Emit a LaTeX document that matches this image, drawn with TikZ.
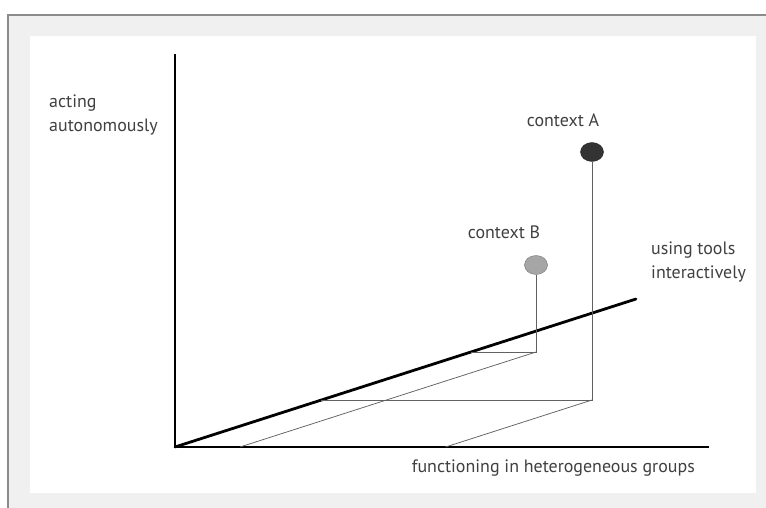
\documentclass[tikz,border=0pt]{standalone}
\usepackage{fontspec}
\setmainfont{PT Sans}
\usetikzlibrary{calc, shapes.geometric}

\begin{document}
\begin{tikzpicture}[x=1bp, y=-1bp,
    axis/.style={line width=2.8pt, black, line cap=rect},
    guide/.style={line width=0.75pt, black!62},
    label/.style={text=black!75, font=\fontsize{18}{25}\selectfont, inner sep=0pt},
    point/.style={ellipse, minimum width=23bp, minimum height=19bp, inner sep=0pt}]
  \useasboundingbox (0,0) rectangle (766,508);
  % frame
  \draw[black!45, line width=1.5pt, fill=black!6] (8,15) rectangle (774,516);
  \fill[white] (30,36) rectangle (756,493);

  % axes
  \coordinate (O) at (175,447);
  \coordinate (ytop) at (175,55);
  \coordinate (xend) at (708,447);
  \coordinate (zend) at (636,299);
  \draw[axis] (ytop) -- (O) -- (xend);
  \draw[axis, line cap=round] (O) -- (zend);

  % the two contexts
  \node[point, fill=black!80, draw=black!85] (ctxA) at (592,152) {};
  \node[point, fill=black!35, draw=black!55] (ctxB) at (536,265) {};

  \coordinate (footA) at (592,400);
  \coordinate (footB) at (536,352);
  \coordinate (zA) at (321.4,400);
  \coordinate (zB) at (471,352);
  \coordinate (baseA) at ($(footA)-(zA)+(O)$);
  \coordinate (baseB) at ($(footB)-(zB)+(O)$);

  \draw[guide] (ctxA) -- (footA) -- (zA);
  \draw[guide] (footA) -- (baseA);
  \draw[guide] (ctxB) -- (footB) -- (zB);
  \draw[guide] (footB) -- (baseB);

  % labels
  \node[label, anchor=base west, align=left] (ylab) at (49,132) {acting\\autonomously};
  \node[label, anchor=base] (labA) at (563,127) {context A};
  \node[label, anchor=base] (labB) at (504,239) {context B};
  \node[label, anchor=base west, align=left] (zlab) at (651,279) {using tools\\interactively};
  \node[label, anchor=base east] (xlab) at (695,472) {functioning in heterogeneous groups};
\end{tikzpicture}
\end{document}
